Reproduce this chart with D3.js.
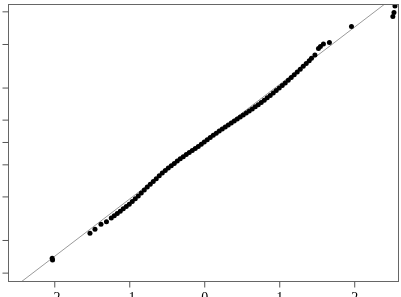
<!DOCTYPE html>
<html>
<head>
<meta charset="utf-8">
<script src="https://cdn.jsdelivr.net/npm/d3@7"></script>
<style>
  html, body { margin: 0; padding: 0; background: #fff; }
  svg { display: block; will-change: transform; }
</style>
</head>
<body>
<svg id="chart" width="401" height="297"></svg>
<script>
// Theoretical quantiles (x) and sample quantiles (y)
const theoretical = [
  -2.028, -2.023, -1.524, -1.457, -1.377, -1.304,
  -1.24, -1.20, -1.16, -1.12, -1.08, -1.04, -1.00, -0.96, -0.92, -0.88,
  -0.84, -0.80, -0.76, -0.72, -0.68, -0.64, -0.60, -0.56, -0.52, -0.48,
  -0.44, -0.40, -0.36, -0.32, -0.28, -0.24, -0.20, -0.16, -0.12, -0.08,
  -0.04, 0.00, 0.04, 0.08, 0.12, 0.16, 0.20, 0.24, 0.28, 0.32,
  0.36, 0.40, 0.44, 0.48, 0.52, 0.56, 0.60, 0.64, 0.68, 0.72,
  0.76, 0.80, 0.84, 0.88, 0.92, 0.96, 1.00, 1.04, 1.08, 1.12,
  1.16, 1.20, 1.24, 1.28, 1.32, 1.36, 1.40, 1.43,
  1.476, 1.523, 1.549, 1.589, 1.669, 1.963, 2.515, 2.530, 2.543
];
const sample = [
  -2.030, -2.058, -1.593, -1.524, -1.436, -1.391,
  -1.327, -1.287, -1.247, -1.207, -1.167, -1.127, -1.087, -1.039, -0.990, -0.941,
  -0.892, -0.838, -0.786, -0.737, -0.689, -0.640, -0.590, -0.543, -0.497, -0.454,
  -0.414, -0.374, -0.334, -0.294, -0.257, -0.219, -0.183, -0.148, -0.113, -0.077,
  -0.040, 0.000, 0.040, 0.080, 0.117, 0.153, 0.191, 0.226, 0.261, 0.296,
  0.330, 0.365, 0.400, 0.435, 0.469, 0.504, 0.539, 0.575, 0.614, 0.650,
  0.690, 0.730, 0.770, 0.810, 0.854, 0.897, 0.941, 0.984, 1.029, 1.076,
  1.125, 1.174, 1.223, 1.271, 1.320, 1.369, 1.417, 1.461,
  1.518, 1.632, 1.667, 1.710, 1.736, 2.016, 2.190, 2.260, 2.373
];
const xTicks = [-2, -1, 0, 1, 2];
const xTickLabels = ["-2", "-1", "0", "1", "2"];
const yTicks = [-2.28, -1.71, -0.95, -0.39, 0, 0.39, 0.95, 1.71, 2.28];
const refLine = [-2.617, 2.597];

const svg = d3.select("#chart");
const L = 8, R = 399, T = 4, B = 281;

const x = d3.scaleLinear().domain([-2.617, 2.597]).range([L, R]);
const y = d3.scaleLinear().domain([-2.426, 2.408]).range([B, T]);

svg.append("rect").attr("width", 401).attr("height", 297).attr("fill", "#fff");

svg.append("defs").append("clipPath").attr("id", "clip")
  .append("rect").attr("x", L).attr("y", T).attr("width", R - L).attr("height", B - T);

// reference line
svg.append("line")
  .attr("clip-path", "url(#clip)")
  .attr("x1", x(refLine[0])).attr("y1", y(refLine[0]))
  .attr("x2", x(refLine[1])).attr("y2", y(refLine[1]))
  .attr("stroke", "#9a9a9a").attr("stroke-width", 1);

// points
const pts = theoretical.map((t, i) => ({ t, s: sample[i] }));
svg.append("g").attr("clip-path", "url(#clip)")
  .selectAll("circle").data(pts).join("circle")
  .attr("cx", d => x(d.t)).attr("cy", d => y(d.s))
  .attr("r", 2.5).attr("fill", "#000");

// frame
svg.append("rect")
  .attr("x", L + 0.5).attr("y", T + 0.5)
  .attr("width", R - L - 1).attr("height", B - T)
  .attr("fill", "none").attr("stroke", "#666").attr("stroke-width", 1);

// x axis
const xAxis = d3.axisBottom(x).tickValues(xTicks)
  .tickFormat((d, i) => xTickLabels[i]).tickSize(6).tickPadding(5);
const gx = svg.append("g").attr("transform", `translate(0,${B + 0.5})`).call(xAxis);
gx.select(".domain").remove();
gx.selectAll(".tick line").attr("stroke", "#555");
gx.selectAll(".tick text")
  .attr("font-family", "'Liberation Serif', 'Times New Roman', serif")
  .attr("font-size", 14).attr("fill", "#000").attr("dy", "0.71em");

// y axis (labels fall outside the visible window)
const yAxis = d3.axisLeft(y).tickValues(yTicks).tickFormat(() => "").tickSize(6);
const gy = svg.append("g").attr("transform", `translate(${L + 0.5},0)`).call(yAxis);
gy.select(".domain").remove();
gy.selectAll(".tick line").attr("stroke", "#555");
</script>
</body>
</html>
